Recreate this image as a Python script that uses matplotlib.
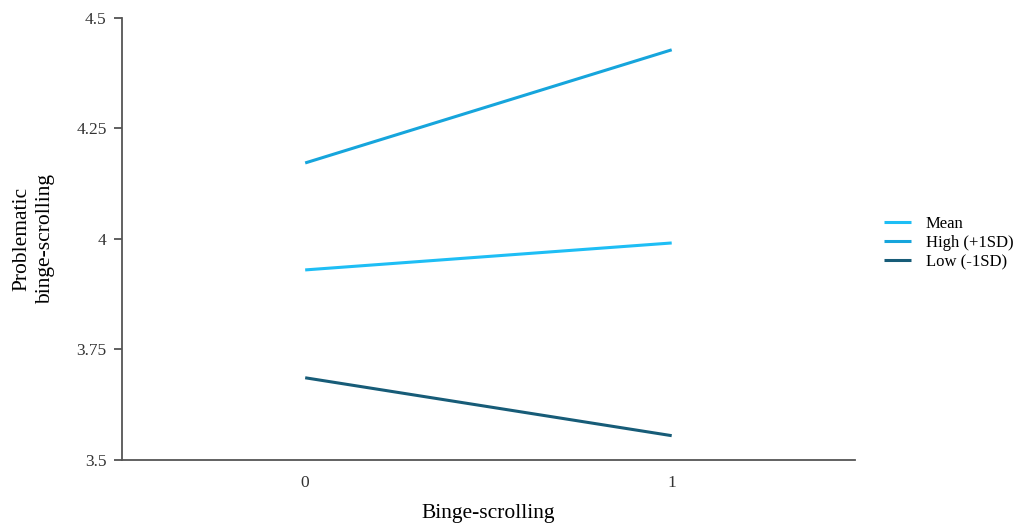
import numpy as np
import matplotlib.pyplot as plt

plt.rcParams['font.family'] = ['Liberation Serif', 'DejaVu Serif']

# data
x_levels = [0, 1]
mean_vals = [3.930, 3.991]
high_vals = [4.172, 4.428]
low_vals = [3.686, 3.555]
series_names = ['Mean', 'High (+1SD)', 'Low (-1SD)']
y_ticks = [3.5, 3.75, 4, 4.25, 4.5]
y_tick_labels = ['3.5', '3.75', '4', '4.25', '4.5']

colors = ['#1ebef5', '#16a5dc', '#175c78']

fig = plt.figure(figsize=(10.16, 5.23), dpi=100)
ax = fig.add_axes([0.120, 0.1205, 0.7215, 0.8451])

for vals, name, c in zip([mean_vals, high_vals, low_vals], series_names, colors):
    ax.plot(x_levels, vals, color=c, lw=2.2, label=name, solid_capstyle='butt')

ax.set_xlim(-0.5, 1.5)
ax.set_ylim(3.5, 4.5)
ax.set_yticks(y_ticks)
ax.set_yticklabels(y_tick_labels)
ax.set_xticks(x_levels)
ax.tick_params(axis='x', length=0, pad=11, labelsize=12.5)
ax.tick_params(axis='y', length=6, width=1.2, color='#444444', pad=5, labelsize=12.5)
for t in ax.get_yticklabels() + ax.get_xticklabels():
    t.set_color('#333333')

for s in ['top', 'right']:
    ax.spines[s].set_visible(False)
for s in ['left', 'bottom']:
    ax.spines[s].set_color('#555555')
    ax.spines[s].set_linewidth(1.3)

ax.set_xlabel('Binge-scrolling', fontsize=15.5, labelpad=9)
ax.set_ylabel('Problematic\nbinge-scrolling', fontsize=15.5, labelpad=15, linespacing=1.35)

leg = fig.legend(loc='center left', bbox_to_anchor=(0.870, 0.535), frameon=False,
                 fontsize=12, handlelength=1.6, handletextpad=0.9, labelspacing=0.18,
                 borderaxespad=0, borderpad=0)

fig.savefig('out.png', dpi=100)
